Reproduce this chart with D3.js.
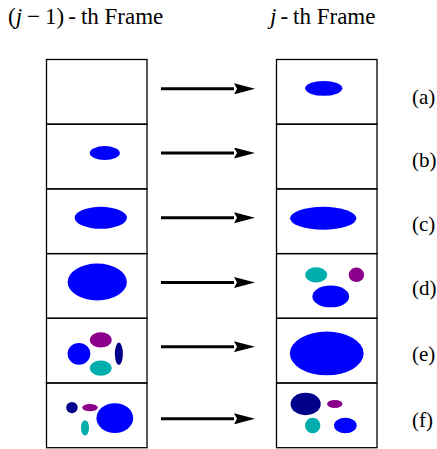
<!DOCTYPE html>
<html>
<head>
<meta charset="utf-8">
<script src="https://cdn.jsdelivr.net/npm/d3@7"></script>
<style>
  body { margin: 0; background: #fff; }
  text { font-family: "Liberation Serif", "Times New Roman", serif; }
</style>
</head>
<body>
<div id="figure"></div>
<script>
"use strict";
(function(){
    // row labels, one per frame pair
    const rowLabels = ["(a)", "(b)", "(c)", "(d)", "(e)", "(f)"];

    // blobs in the (j-1)-th frame: [row, cx, cy, rx, ry, kind] in cell units (100 x 65)
    const prevBlobs = [
        [1, 58, 29, 15, 7, "blue"],
        [2, 54, 29, 26, 11, "blue"],
        [3, 50.5, 28.5, 29.5, 18.5, "blue"],
        [4, 54, 21.7, 11, 7.7, "purple"],
        [4, 32.3, 35.7, 11.3, 11, "blue"],
        [4, 72, 35.7, 4, 11.3, "navy"],
        [4, 54, 50, 11, 7.7, "cyan"],
        [5, 25.3, 24.7, 5.7, 5.7, "navy"],
        [5, 43.3, 24.7, 7.7, 3.7, "purple"],
        [5, 68, 35.3, 18.3, 15, "blue"],
        [5, 38.3, 45, 4, 7.7, "cyan"]
    ];

    // blobs in the j-th frame
    const currBlobs = [
        [0, 47, 29, 18.5, 7.5, "blue"],
        [2, 46.5, 29.5, 33, 11.5, "blue"],
        [3, 39.5, 21.3, 11, 7.7, "cyan"],
        [3, 79.5, 21.3, 7.7, 7.3, "purple"],
        [3, 54, 43, 18.3, 11, "blue"],
        [4, 50, 35.3, 36.7, 22, "blue"],
        [5, 29, 21, 15, 11.3, "navy"],
        [5, 58, 21, 7.7, 4, "purple"],
        [5, 36, 42.7, 7.7, 7.7, "cyan"],
        [5, 68.5, 42.7, 11.3, 7.7, "blue"]
    ];

    const kinds = ["blue", "cyan", "purple", "navy"];
    const color = d3.scaleOrdinal().domain(kinds)
        .range(["#0000ff", "#00adad", "#8b008b", "#00008b"]);

    // layout
    const W = 437, H = 449;
    const boxTop = 59.5, rowH = 64.7;
    const arrowNudge = [-3, -3.5, -3.5, -3.5, -4, 3.5];
    const labelNudge = [4.5, 3.5, 2.5, 1.5, 2.5, 4];

    const svg = d3.select("#figure").append("svg")
        .attr("width", W)
        .attr("height", H);

    const rowY = d3.scaleBand()
        .domain(d3.range(rowLabels.length))
        .range([boxTop, boxTop + rowH * rowLabels.length]);

    const cellY = d3.scaleLinear().domain([0, 65]).range([0, rowH]);
    const leftX = d3.scaleLinear().domain([0, 100]).range([46.5, 147]);
    const rightX = d3.scaleLinear().domain([0, 100]).range([276.5, 377]);

    function drawColumn(xs, blobs) {
        const g = svg.append("g");
        g.selectAll("ellipse")
            .data(blobs)
            .enter().append("ellipse")
            .attr("cx", d => xs(d[1]))
            .attr("cy", d => rowY(d[0]) + cellY(d[2]))
            .attr("rx", d => xs(d[3]) - xs(0))
            .attr("ry", d => cellY(d[4]))
            .attr("fill", d => color(d[5]));

        g.selectAll("rect")
            .data(rowLabels)
            .enter().append("rect")
            .attr("x", xs(0))
            .attr("y", (d, i) => rowY(i))
            .attr("width", xs(100) - xs(0))
            .attr("height", rowY.bandwidth())
            .attr("fill", "none")
            .attr("stroke", "#000")
            .attr("stroke-width", 1.3);
    }

    drawColumn(leftX, prevBlobs);
    drawColumn(rightX, currBlobs);

    // arrows
    svg.append("defs").append("marker")
        .attr("id", "head")
        .attr("viewBox", "0 0 21 11")
        .attr("refX", 0)
        .attr("refY", 5.5)
        .attr("markerUnits", "userSpaceOnUse")
        .attr("markerWidth", 21)
        .attr("markerHeight", 11)
        .attr("orient", "auto")
        .append("path")
        .attr("d", "M0,0 L21,5.5 L0,11 L3,5.5 Z")
        .attr("fill", "#000");

    svg.selectAll(".arrow")
        .data(rowLabels)
        .enter().append("line")
        .attr("class", "arrow")
        .attr("x1", 161)
        .attr("x2", 234)
        .attr("y1", (d, i) => rowY(i) + rowH / 2 + arrowNudge[i])
        .attr("y2", (d, i) => rowY(i) + rowH / 2 + arrowNudge[i])
        .attr("stroke", "#000")
        .attr("stroke-width", 3)
        .attr("marker-end", "url(#head)");

    // row labels
    svg.selectAll(".lab")
        .data(rowLabels)
        .enter().append("text")
        .attr("class", "lab")
        .attr("x", 412)
        .attr("y", (d, i) => rowY(i) + rowH / 2 + labelNudge[i])
        .attr("dy", "0.35em")
        .style("font-size", "21px")
        .text(d => d);

    // column headings
    const t1 = svg.append("text")
        .attr("x", 8)
        .attr("y", 24)
        .style("font-size", "23px");
    t1.append("tspan").text("(");
    t1.append("tspan").style("font-style", "italic").text("j");
    t1.append("tspan").attr("dx", 5).text("\u2212");
    t1.append("tspan").attr("dx", 5).text("1)");
    t1.append("tspan").attr("dx", 4).text("-");
    t1.append("tspan").attr("dx", 5).text("th Frame");

    const t2 = svg.append("text")
        .attr("x", 270)
        .attr("y", 24)
        .style("font-size", "23px");
    t2.append("tspan").style("font-style", "italic").text("j");
    t2.append("tspan").attr("dx", 4).text("-");
    t2.append("tspan").attr("dx", 5).text("th Frame");
})()
</script>
</body>
</html>
